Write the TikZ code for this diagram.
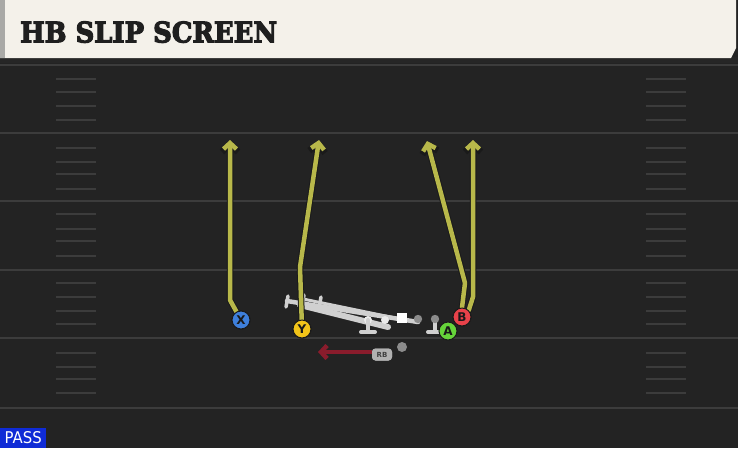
\documentclass[tikz,border=0pt]{standalone}
\usepackage{fontspec}
\usetikzlibrary{arrows.meta}
\newfontfamily\titlefont[BoldFeatures={FakeBold=4}]{DejaVu Serif}
\newfontfamily\labelfont{DejaVu Sans}
\definecolor{fieldbg}{HTML}{232323}
\definecolor{cream}{HTML}{F4F1EA}
\definecolor{stripgrey}{HTML}{A9A9A6}
\definecolor{yardcol}{HTML}{3C3C3C}
\definecolor{routecol}{HTML}{B8B84A}
\definecolor{routeedge}{HTML}{1A1A1A}
\definecolor{passblue}{HTML}{0F2BD6}
\definecolor{xblue}{HTML}{3E7FDB}
\definecolor{yyellow}{HTML}{F2C419}
\definecolor{agreen}{HTML}{66D43A}
\definecolor{bred}{HTML}{E8424A}
\definecolor{olgrey}{HTML}{D0D0D0}
\definecolor{runred}{HTML}{8A1C2C}
\tikzset{
  yardline/.style={draw=yardcol, line width=2.5pt},
  hashline/.style={draw=yardcol, line width=2pt},
  player/.style={circle, draw=routeedge, line width=1pt, minimum size=18pt, inner sep=0pt,
    font=\labelfont\bfseries\fontsize{12}{12}\selectfont, text=black!90},
  routeout/.style={draw=routeedge, line width=6.5pt, line cap=round, line join=round,
    -{Straight Barb[length=7.5pt,width=16pt]}},
  routein/.style={draw=routecol, line width=4.5pt, line cap=round, line join=round,
    -{Straight Barb[length=6pt,width=13pt]}},
  olbar/.style={draw=olgrey, line cap=round},
  rbtag/.style={fill=olgrey!85!black, rounded corners=3.5pt, minimum width=20pt, minimum height=12pt,
    inner sep=0pt, font=\labelfont\bfseries\fontsize{7}{7}\selectfont, text=black!75},
  runarrow/.style={draw=runred, line width=4.5pt, -{Straight Barb[length=6pt,width=13pt]}}
}
\begin{document}
\begin{tikzpicture}[x=1pt,y=-1pt]
\useasboundingbox (0,0) rectangle (738,448);
\fill[fieldbg] (0,0) rectangle (738,448);
% header
\fill[black!85] (0,57) rectangle (738,63);
\fill[cream] (0,0) -- (736,0) -- (736,48) -- (731,58) -- (0,58) -- cycle;
\fill[stripgrey] (0,0) rectangle (5,58);
\node[anchor=south west, inner sep=0pt, text=black!88] (title) at (20,43)
  {\resizebox{257pt}{21pt}{\titlefont\bfseries HB SLIP SCREEN}};
% yard lines
\foreach \yy in {65,133,201,270,338,408} \draw[yardline] (0,\yy) -- (738,\yy);
\foreach \yy in {79,92,106,120,148,162,174,189,214,229,241,256,283,297,311,324,353,367,379,393} {
  \draw[hashline] (56,\yy) -- (96,\yy);
  \draw[hashline] (646,\yy) -- (686,\yy);
}
% offensive line
\draw[olbar, line width=4.5pt] (287,301) -- (418,322);
\draw[olbar, line width=6pt] (300,305) -- (388,327);
\draw[olbar, line width=3pt] (303,299) -- (400,319);
\draw[olbar, line width=3.5pt] (288,296) -- (286,307);
\draw[olbar, line width=3.5pt] (304,295) -- (302,306);
\draw[olbar, line width=3.5pt] (321,297) -- (319,308);
\fill[white!92!black] (368,320) circle (4pt) (385,320) circle (4pt);
\draw[olbar, line width=4pt] (368,320) -- (368,330) (361,332) -- (375,332);
\draw[olbar, line width=4pt] (435,320) -- (435,330) (428,332) -- (442,332);
\fill[white] (397,313) rectangle (407,323);
\fill[black!45] (418,319) circle (4.2pt) (435,319) circle (4.2pt);
% players
\node[player, fill=xblue] (X) at (241,320) {X};
\node[player, fill=yyellow] (Y) at (302,329) {Y};
\node[player, fill=agreen] (A) at (448,331) {A};
\node[player, fill=bred] (B) at (462,317) {B};
\node[circle, fill=black!45, minimum size=10pt, inner sep=0pt] (qb) at (402,347) {};
\node[rbtag] (RB) at (382,354.5) {RB};
% route endpoints
\coordinate (xt) at (230,140);
\coordinate (yt) at (319,140);
\coordinate (b1t) at (427,141);
\coordinate (b2t) at (473,140);
\coordinate (rbt) at (318,352);
% routes
\draw[routeout] (X) -- (230,300) -- (xt);
\draw[routein] (X) -- (230,300) -- (xt);
\draw[routeout] (Y) -- (300,267) -- (yt);
\draw[routein] (Y) -- (300,267) -- (yt);
\draw[routeout] (B.north) -- (465,283) -- (b1t);
\draw[routein] (B.north) -- (465,283) -- (b1t);
\draw[routeout] (B.north east) -- (473,297) -- (b2t);
\draw[routein] (B.north east) -- (473,297) -- (b2t);
\node[player, fill=xblue] at (X) {X};
\node[player, fill=yyellow] at (Y) {Y};
\node[player, fill=bred] at (B) {B};
\draw[runarrow] ([yshift=2.5pt]RB.west) -- (rbt);
\node[rbtag] at (RB) {RB};
% pass label
\node[fill=passblue, anchor=south west, minimum width=46pt, minimum height=20pt, inner sep=0pt, text=white] (pass) at (0,448)
  {\resizebox{37pt}{12pt}{\labelfont PASS}};
\end{tikzpicture}
\end{document}
